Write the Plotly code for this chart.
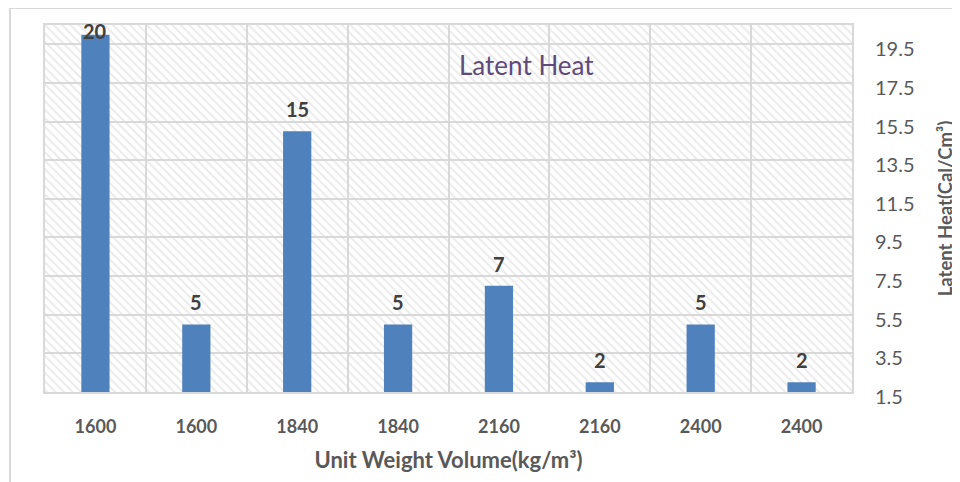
import plotly.graph_objects as go

categories = ["1600", "1600", "1840", "1840", "2160", "2160", "2400", "2400"]
values = [20, 5, 15, 5, 7, 2, 5, 2]
y_ticks = [1.5, 3.5, 5.5, 7.5, 9.5, 11.5, 13.5, 15.5, 17.5, 19.5]
y_min, y_max = 1.5, 20.5

FONT = "Lato"
GREY = "#595959"
GRID = "#d9d9d9"

OFF = 8  # page body margin
W, H = 960, 482
ML, MR, MT, MB = 45 - OFF, W - (852 - OFF), 25 - OFF, H - (392 - OFF)
PW, PH = W - ML - MR, H - MT - MB

x_pos = list(range(len(categories)))

fig = go.Figure()

# hatched plot background
fig.add_trace(go.Bar(
    x=[(len(categories) - 1) / 2], y=[y_max - y_min], base=[y_min],
    width=[len(categories)],
    marker=dict(color="rgba(0,0,0,0)", line=dict(width=0),
                pattern=dict(shape="\\", fgcolor="#d6d6d6", bgcolor="rgba(0,0,0,0)",
                             size=6, solidity=0.32, fillmode="overlay")),
    hoverinfo="skip", showlegend=False,
))

fig.add_trace(go.Bar(
    x=x_pos, y=values, width=0.28,
    marker=dict(color="#4f81bd", line=dict(width=0)),
    showlegend=False,
))

annotations = []
for xi, v in zip(x_pos, values):
    if v + 1.2 > y_max:
        annotations.append(dict(x=xi, y=y_max, xref="x", yref="y", text=f"<b>{v}</b>",
                                showarrow=False, yanchor="top", yshift=8,
                                font=dict(family=FONT, size=20, color="#404040")))
    else:
        annotations.append(dict(x=xi, y=v, xref="x", yref="y", text=f"<b>{v}</b>",
                                showarrow=False, yanchor="bottom", yshift=8,
                                font=dict(family=FONT, size=20, color="#404040")))


def px_x(p):
    return (p - OFF - ML) / PW


def px_y(p):
    return (H - MB - (p - OFF)) / PH


annotations.append(dict(x=px_x(526), y=px_y(65), xref="paper", yref="paper", text="Latent Heat",
                        showarrow=False, xanchor="center", yanchor="middle",
                        font=dict(family=FONT, size=26, color="#604a7b")))

shapes = [
    dict(type="line", xref="paper", yref="paper", x0=px_x(10), x1=px_x(W + 20),
         y0=px_y(8), y1=px_y(8), line=dict(color=GRID, width=2)),
    dict(type="line", xref="paper", yref="paper", x0=px_x(10), x1=px_x(10),
         y0=px_y(8), y1=px_y(H + 20), line=dict(color=GRID, width=2)),
]

fig.update_layout(
    width=W, height=H,
    margin=dict(l=ML, r=MR, t=MT, b=MB),
    paper_bgcolor="white", plot_bgcolor="white",
    barmode="overlay",
    annotations=annotations,
    shapes=shapes,
    font=dict(family=FONT, color=GREY),
    xaxis=dict(
        range=[-0.5, len(categories) - 0.5],
        tickmode="array", tickvals=x_pos, ticktext=[f"<b>{c}</b>" for c in categories],
        tickfont=dict(family=FONT, size=18, color=GREY),
        showgrid=False, zeroline=False,
        ticks="", ticklabelstandoff=17,
        showline=True, mirror=True, linecolor=GRID, linewidth=2,
        minor=dict(tickvals=[i - 0.5 for i in range(len(categories) + 1)],
                   showgrid=True, gridcolor=GRID, gridwidth=2, ticks=""),
        title=dict(text="<b>Unit Weight Volume(kg/m³)</b>", standoff=17,
                   font=dict(family=FONT, size=22, color=GREY)),
    ),
    yaxis=dict(
        side="right",
        range=[y_min, y_max],
        tickmode="array", tickvals=y_ticks, ticktext=[f"{t}" for t in y_ticks],
        tickfont=dict(family=FONT, size=20, color=GREY),
        showgrid=True, gridcolor=GRID, gridwidth=2, zeroline=False,
        ticks="", ticklabelstandoff=17, ticklabelshift=5,
        showline=True, mirror=True, linecolor=GRID, linewidth=2,
        title=dict(text="<b>Latent Heat(Cal/Cm³)</b>", standoff=26,
                   font=dict(family=FONT, size=18.5, color=GREY)),
    ),
)

fig.write_html("out.html")
